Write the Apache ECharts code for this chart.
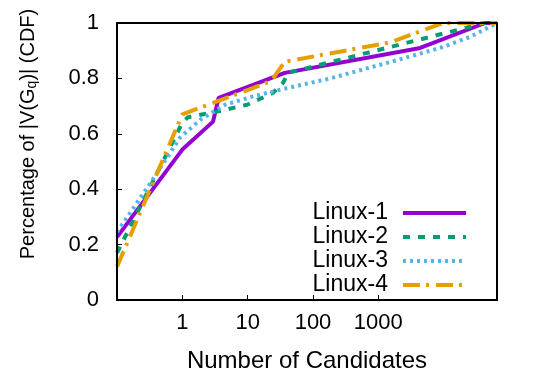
<!DOCTYPE html>
<html>
<head>
<meta charset="utf-8">
<script src="https://cdn.jsdelivr.net/npm/echarts@6/dist/echarts.min.js"></script>
<style>html,body{margin:0;padding:0;background:#fff}#c{width:540px;height:378px}</style>
</head>
<body>
<div id="c"></div>
<script>
var seriesNames = ['Linux-1', 'Linux-2', 'Linux-3', 'Linux-4'];
var xTicks = [1, 10, 100, 1000];
var yTicks = [0, 0.2, 0.4, 0.6, 0.8, 1];
var linux1 = [[0.1, 0.227], [1, 0.543], [2.95, 0.644], [3.6, 0.73], [37, 0.82], [4370, 0.91], [43000, 1.0], [65536, 1.0]];
var linux2 = [[0.1, 0.17], [1, 0.64], [1.22, 0.66], [3.4, 0.68], [9.8, 0.705], [24.5, 0.748], [34.8, 0.784], [41.6, 0.82], [43000, 1.0], [65536, 1.0]];
var linux3 = [[0.1, 0.245], [0.32, 0.42], [0.92, 0.586], [1.87, 0.65], [4.5, 0.705], [11.7, 0.734], [31.3, 0.759], [183, 0.80], [1365, 0.856], [8830, 0.91], [25500, 0.95], [65536, 1.0]];
var linux4 = [[0.1, 0.12], [1, 0.67], [22.8, 0.79], [37, 0.86], [1517, 0.93], [9820, 1.0], [65536, 1.0]];

var colors = ['#9400d3', '#009e73', '#56b4e9', '#e69f00'];
var dashes = ['solid', [7, 8], [3, 4], [17, 6, 3, 7]];
var datas = [linux1, linux2, linux3, linux4];
var FONT = 'Liberation Sans';

var chart = echarts.init(document.getElementById('c'), null, {renderer: 'canvas'});
var series = datas.map(function (d, i) {
  return {
    name: seriesNames[i], type: 'line', data: d, symbol: 'none', animation: false,
    lineStyle: {color: colors[i], width: 4, type: dashes[i], cap: 'butt'},
    itemStyle: {color: colors[i]}
  };
});
chart.setOption({
  animation: false,
  grid: {left: 117, right: 43, top: 23, bottom: 77, show: false},
  xAxis: [{
    type: 'log', logBase: 10, min: 0.1, max: 65536, z: 10,
    axisLine: {show: true, lineStyle: {color: '#000', width: 2}},
    axisTick: {show: true, inside: true, length: 5, customValues: xTicks, lineStyle: {color: '#000', width: 1}},
    axisLabel: {customValues: xTicks, margin: 12, color: '#000', fontFamily: FONT, fontSize: 22,
      formatter: function (v) { return String(Math.round(v)); }},
    splitLine: {show: false},
    name: 'Number of Candidates', nameLocation: 'middle', nameGap: 49,
    nameTextStyle: {color: '#000', fontFamily: FONT, fontSize: 24}
  }, {
    type: 'log', logBase: 10, min: 0.1, max: 65536, position: 'top', z: 10,
    axisLine: {show: true, onZero: false, lineStyle: {color: '#000', width: 2}},
    axisTick: {show: false}, axisLabel: {show: false}, splitLine: {show: false}
  }],
  yAxis: [{
    type: 'value', min: 0, max: 1, interval: 0.2, z: 10,
    axisLine: {show: true, lineStyle: {color: '#000', width: 2}},
    axisTick: {show: true, inside: true, length: 5, lineStyle: {color: '#000', width: 1}},
    axisLabel: {margin: 18, color: '#000', fontFamily: FONT, fontSize: 22},
    splitLine: {show: false}
  }, {
    type: 'value', min: 0, max: 1, position: 'right', z: 10,
    axisLine: {show: true, onZero: false, lineStyle: {color: '#000', width: 2}},
    axisTick: {show: false}, axisLabel: {show: false}, splitLine: {show: false}
  }],
  legend: {
    orient: 'vertical', right: 72, top: 201, align: 'right', padding: 0,
    itemWidth: 63, itemHeight: 14, itemGap: 0,
    textStyle: {color: '#000', fontFamily: FONT, fontSize: 23, lineHeight: 24, padding: [0, 10, 0, 0]},
    data: seriesNames.map(function (n, i) {
      return {name: n, itemStyle: {opacity: 0},
        lineStyle: {color: colors[i], width: 4, type: dashes[i], cap: 'butt', opacity: 1}};
    })
  },
  graphic: [{
    type: 'text', x: 28, y: 134, rotation: Math.PI / 2,
    style: {
      text: 'Percentage of |V(G{q|q})| (CDF)',
      fill: '#000', fontFamily: FONT, fontSize: 20, align: 'center', verticalAlign: 'middle',
      rich: {q: {fontSize: 14, fontFamily: FONT, fill: '#000', verticalAlign: 'bottom', padding: [8, 0, 0, 0]}}
    }
  }],
  series: series
});
</script>
</body>
</html>
